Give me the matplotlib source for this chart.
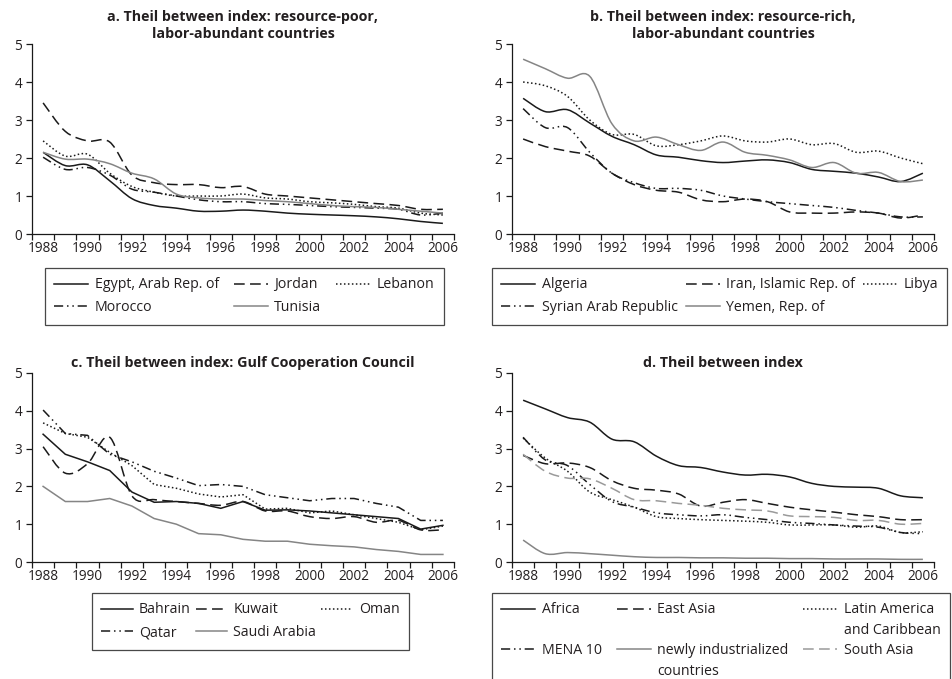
import numpy as np
import matplotlib
matplotlib.use("Agg")
import matplotlib.pyplot as plt
from matplotlib.path import Path
from matplotlib.patches import PathPatch
from matplotlib.lines import Line2D

plt.rcParams['font.family'] = ['Open Sans', 'DejaVu Sans']

years = list(range(1988, 2007))

# a. resource-poor, labor-abundant countries
egypt = [2.15, 1.80, 1.82, 1.40, 0.93, 0.75, 0.68, 0.60, 0.60, 0.63, 0.60, 0.55, 0.52, 0.50, 0.48, 0.45, 0.40, 0.33, 0.28]
jordan = [3.45, 2.70, 2.45, 2.42, 1.55, 1.35, 1.30, 1.30, 1.22, 1.25, 1.05, 1.00, 0.95, 0.90, 0.85, 0.80, 0.75, 0.65, 0.65]
lebanon = [2.45, 2.05, 2.10, 1.60, 1.25, 1.10, 1.00, 1.00, 1.00, 1.05, 0.95, 0.92, 0.85, 0.82, 0.78, 0.72, 0.68, 0.55, 0.50]
morocco = [2.02, 1.70, 1.75, 1.55, 1.18, 1.10, 1.00, 0.90, 0.85, 0.85, 0.80, 0.78, 0.75, 0.72, 0.70, 0.68, 0.65, 0.50, 0.55]
tunisia = [2.15, 1.97, 1.97, 1.85, 1.60, 1.45, 1.05, 0.95, 0.92, 0.92, 0.88, 0.85, 0.80, 0.75, 0.72, 0.70, 0.65, 0.60, 0.55]

# b. resource-rich, labor-abundant countries
algeria = [3.57, 3.22, 3.27, 2.92, 2.57, 2.35, 2.08, 2.02, 1.93, 1.88, 1.92, 1.95, 1.88, 1.70, 1.65, 1.60, 1.50, 1.38, 1.60]
iran = [2.50, 2.30, 2.18, 2.05, 1.60, 1.30, 1.15, 1.10, 0.90, 0.85, 0.92, 0.85, 0.58, 0.55, 0.55, 0.58, 0.55, 0.42, 0.50]
libya = [4.00, 3.90, 3.62, 3.00, 2.62, 2.62, 2.32, 2.35, 2.45, 2.58, 2.45, 2.42, 2.50, 2.35, 2.38, 2.15, 2.18, 2.00, 1.85]
syria = [3.30, 2.80, 2.80, 2.15, 1.60, 1.35, 1.20, 1.20, 1.15, 1.00, 0.92, 0.85, 0.80, 0.75, 0.70, 0.62, 0.55, 0.45, 0.45]
yemen = [4.60, 4.35, 4.10, 4.15, 2.90, 2.45, 2.55, 2.35, 2.20, 2.42, 2.15, 2.07, 1.95, 1.75, 1.88, 1.60, 1.62, 1.38, 1.42]

# c. Gulf Cooperation Council
bahrain = [3.38, 2.85, 2.65, 2.42, 1.85, 1.58, 1.60, 1.55, 1.42, 1.60, 1.37, 1.38, 1.35, 1.30, 1.25, 1.20, 1.15, 0.87, 0.97]
kuwait = [3.05, 2.35, 2.60, 3.30, 1.75, 1.65, 1.60, 1.55, 1.50, 1.60, 1.35, 1.35, 1.20, 1.15, 1.20, 1.05, 1.10, 0.85, 0.85]
oman = [3.68, 3.40, 3.30, 2.90, 2.55, 2.05, 1.95, 1.80, 1.72, 1.78, 1.40, 1.42, 1.30, 1.35, 1.25, 1.15, 1.05, 0.85, 0.95]
qatar = [4.02, 3.40, 3.35, 2.85, 2.65, 2.40, 2.22, 2.02, 2.05, 2.00, 1.78, 1.70, 1.62, 1.68, 1.68, 1.55, 1.45, 1.10, 1.10]
saudi = [2.00, 1.60, 1.60, 1.68, 1.48, 1.15, 1.00, 0.75, 0.72, 0.60, 0.55, 0.55, 0.47, 0.43, 0.40, 0.33, 0.28, 0.20, 0.20]

# d. regional aggregates
africa = [4.28, 4.05, 3.82, 3.70, 3.25, 3.18, 2.80, 2.55, 2.50, 2.38, 2.30, 2.32, 2.25, 2.08, 2.00, 1.98, 1.95, 1.75, 1.70]
east_asia = [2.82, 2.60, 2.62, 2.50, 2.15, 1.95, 1.90, 1.80, 1.48, 1.58, 1.65, 1.55, 1.45, 1.38, 1.32, 1.25, 1.20, 1.12, 1.12]
latin_america = [3.28, 2.75, 2.40, 1.85, 1.65, 1.45, 1.20, 1.15, 1.12, 1.10, 1.08, 1.05, 0.98, 0.98, 0.98, 0.92, 0.95, 0.78, 0.80]
mena10 = [3.30, 2.70, 2.55, 2.05, 1.60, 1.45, 1.30, 1.25, 1.22, 1.25, 1.18, 1.12, 1.05, 1.02, 0.98, 0.95, 0.92, 0.78, 0.75]
nics = [0.58, 0.22, 0.25, 0.22, 0.18, 0.14, 0.12, 0.12, 0.11, 0.11, 0.10, 0.10, 0.09, 0.09, 0.08, 0.08, 0.08, 0.07, 0.07]
south_asia = [2.85, 2.40, 2.22, 2.20, 1.95, 1.65, 1.62, 1.55, 1.50, 1.42, 1.38, 1.35, 1.22, 1.20, 1.18, 1.10, 1.10, 1.00, 1.02]

BLACK = '#1a1a1a'
TEXT = '#231f20'
GRAY = '#858585'
LGRAY = '#9a9a9a'
LW = 1.1

SOLID = '-'
DASH = (0, (7, 3.5))
DOT = (0, (1, 1.6))
DASHDOTDOT = (0, (6, 2.5, 1, 2.5, 1, 2.5))

TICK_FS = 9.8
TITLE_FS = 10.3
LEGEND_FS = 10.2


def smooth_path(x, y):
    """Catmull-Rom style cubic Bezier path through the data points."""
    pts = np.column_stack([x, y]).astype(float)
    n = len(pts)
    verts = [pts[0]]
    codes = [Path.MOVETO]
    for i in range(n - 1):
        p0 = pts[i - 1] if i > 0 else pts[i]
        p1 = pts[i]
        p2 = pts[i + 1]
        p3 = pts[i + 2] if i + 2 < n else pts[i + 1]
        c1 = p1 + (p2 - p0) / 6.0
        c2 = p2 - (p3 - p1) / 6.0
        verts.extend([c1, c2, p2])
        codes.extend([Path.CURVE4] * 3)
    return Path(verts, codes)


def draw_series(ax, values, color, ls, smooth):
    if smooth:
        patch = PathPatch(smooth_path(years, values), facecolor='none',
                          edgecolor=color, linewidth=LW, linestyle=ls,
                          capstyle='butt', joinstyle='round')
        ax.add_patch(patch)
    else:
        ax.plot(years, values, color=color, linewidth=LW, linestyle=ls,
                solid_joinstyle='miter')
    return Line2D([], [], color=color, linewidth=LW, linestyle=ls)


def style_axes(ax, title):
    ax.set_xlim(1987.5, 2006.5)
    ax.set_ylim(0, 5)
    ax.spines['top'].set_visible(False)
    ax.spines['right'].set_visible(False)
    for s in ('left', 'bottom'):
        ax.spines[s].set_linewidth(0.9)
        ax.spines[s].set_color(BLACK)
    # tick marks on category boundaries, labels on category centres
    ax.set_xticks(np.arange(1987.5, 2007.0, 1.0))
    ax.set_xticklabels([])
    ax.set_xticks(np.arange(1988, 2007, 2), minor=True)
    ax.set_xticklabels([str(y) for y in range(1988, 2007, 2)], minor=True)
    ax.tick_params(axis='x', which='major', direction='out', length=4,
                   width=0.9, color=BLACK)
    ax.tick_params(axis='x', which='minor', length=0, pad=5,
                   labelsize=TICK_FS, labelcolor=TEXT)
    ax.set_yticks(range(0, 6))
    ax.tick_params(axis='y', direction='out', length=4, width=0.9,
                   color=BLACK, labelsize=TICK_FS, labelcolor=TEXT, pad=3)
    ax.set_title(title, fontsize=TITLE_FS, fontweight='bold', pad=4,
                 linespacing=1.3, color=TEXT)


def add_legend(fig, handles, labels, anchor, order, labelspacing=0.56,
               columnspacing=1.05, handlelength=2.4):
    h = [handles[i] for i in order]
    l = [labels[i] for i in order]
    leg = fig.legend(h, l, loc='upper left', bbox_to_anchor=anchor,
                     bbox_transform=fig.transFigure, ncol=3,
                     fontsize=LEGEND_FS, frameon=True, fancybox=False,
                     edgecolor=BLACK, handlelength=handlelength,
                     handletextpad=0.45, columnspacing=columnspacing,
                     borderpad=0.67, labelspacing=labelspacing,
                     borderaxespad=0)
    leg.get_frame().set_linewidth(0.9)
    for t in leg.get_texts():
        t.set_color(TEXT)
    return leg


W, H = 953, 679
fig = plt.figure(figsize=(W / 100, H / 100), dpi=100)


def axes_at(left, top, right, bottom):
    return fig.add_axes([left / W, 1 - bottom / H, (right - left) / W,
                         (bottom - top) / H])


ax_a = axes_at(32, 44, 454, 234)
ax_b = axes_at(512, 44, 934, 234)
ax_c = axes_at(32, 373, 454, 562)
ax_d = axes_at(512, 373, 934, 562)

# panel a
style_axes(ax_a, 'a. Theil between index: resource-poor,\nlabor-abundant countries')
ha = [draw_series(ax_a, egypt, BLACK, SOLID, True),
      draw_series(ax_a, jordan, BLACK, DASH, True),
      draw_series(ax_a, lebanon, BLACK, DOT, True),
      draw_series(ax_a, morocco, BLACK, DASHDOTDOT, True),
      draw_series(ax_a, tunisia, GRAY, SOLID, True)]
la = ['Egypt, Arab Rep. of', 'Jordan', 'Lebanon', 'Morocco', 'Tunisia']
add_legend(fig, ha, la, (45 / W, 1 - 268 / H), [0, 3, 1, 4, 2])

# panel b
style_axes(ax_b, 'b. Theil between index: resource-rich,\nlabor-abundant countries')
hb = [draw_series(ax_b, algeria, BLACK, SOLID, True),
      draw_series(ax_b, iran, BLACK, DASH, True),
      draw_series(ax_b, libya, BLACK, DOT, True),
      draw_series(ax_b, syria, BLACK, DASHDOTDOT, True),
      draw_series(ax_b, yemen, GRAY, SOLID, True)]
lb = ['Algeria', 'Iran, Islamic Rep. of', 'Libya', 'Syrian Arab Republic', 'Yemen, Rep. of']
add_legend(fig, hb, lb, (492 / W, 1 - 268 / H), [0, 3, 1, 4, 2],
           columnspacing=0.55)

# panel c
style_axes(ax_c, 'c. Theil between index: Gulf Cooperation Council')
hc = [draw_series(ax_c, bahrain, BLACK, SOLID, False),
      draw_series(ax_c, kuwait, BLACK, DASH, True),
      draw_series(ax_c, oman, BLACK, DOT, False),
      draw_series(ax_c, qatar, BLACK, DASHDOTDOT, False),
      draw_series(ax_c, saudi, GRAY, SOLID, False)]
lc = ['Bahrain', 'Kuwait', 'Oman', 'Qatar', 'Saudi Arabia']
add_legend(fig, hc, lc, (92 / W, 1 - 593 / H), [0, 3, 1, 4, 2],
           columnspacing=0.35, handlelength=2.2)

# panel d
style_axes(ax_d, 'd. Theil between index')
hd = [draw_series(ax_d, africa, BLACK, SOLID, True),
      draw_series(ax_d, east_asia, BLACK, DASH, True),
      draw_series(ax_d, latin_america, BLACK, DOT, True),
      draw_series(ax_d, mena10, BLACK, DASHDOTDOT, True),
      draw_series(ax_d, nics, GRAY, SOLID, True),
      draw_series(ax_d, south_asia, LGRAY, DASH, True)]
blank = Line2D([], [], linestyle='none')
# two-line labels: the second line sits in its own row with an empty key
hd_rows = [hd[0], blank, hd[3], blank,
           hd[1], blank, hd[4], blank,
           hd[2], blank, hd[5], blank]
ld_rows = ['Africa', '', 'MENA 10', '',
           'East Asia', '', 'newly industrialized', 'countries',
           'Latin America', 'and Caribbean', 'South Asia', '']
add_legend(fig, hd_rows, ld_rows, (492 / W, 1 - 593 / H), list(range(12)),
           labelspacing=0.38)

fig.savefig('out.png', dpi=100)
